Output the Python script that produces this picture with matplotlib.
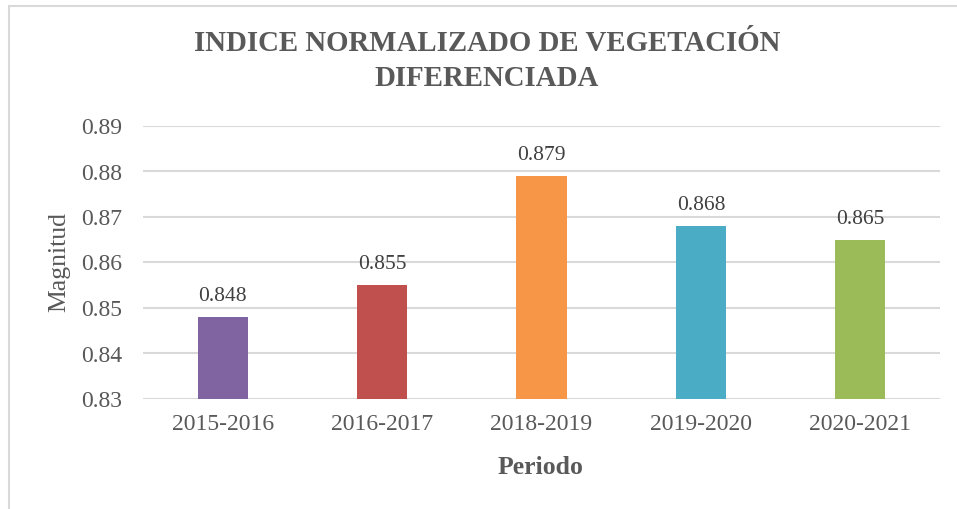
import matplotlib
matplotlib.use("Agg")
import matplotlib.pyplot as plt
from matplotlib.patches import Rectangle

periods = ["2015-2016", "2016-2017", "2018-2019", "2019-2020", "2020-2021"]
ndvi = [0.848, 0.855, 0.879, 0.868, 0.865]
bar_colors = ["#8064A2", "#C0504D", "#F79646", "#4BACC6", "#9BBB59"]
y_ticks = [0.83, 0.84, 0.85, 0.86, 0.87, 0.88, 0.89]

plt.rcParams["font.family"] = ["Liberation Serif", "DejaVu Serif"]

W, H = 957, 509
fig = plt.figure(figsize=(W / 100, H / 100), dpi=100)
fig.patch.set_facecolor("white")

# chart frame
fig.add_artist(Rectangle((8.5 / W, -0.1), 1.2, 1.1 - 6.5 / H,
                         transform=fig.transFigure, fill=False,
                         edgecolor="#D9D9D9", linewidth=1.5, zorder=0))

ax = fig.add_axes([143 / W, 1 - 399 / H, (940 - 143) / W, (399 - 126) / H])
x = list(range(len(periods)))
ax.bar(x, [v - 0.83 for v in ndvi], bottom=0.83, width=0.314,
       color=bar_colors, zorder=3)

for xi, v in zip(x, ndvi):
    ax.annotate(f"{v:.3f}", (xi, v), xytext=(0, 8), textcoords="offset points",
                ha="center", va="bottom", fontsize=15.5, color="#404040")

ax.set_ylim(0.83, 0.89)
ax.set_xlim(-0.5, len(periods) - 0.5)
ax.set_yticks(y_ticks)
ax.set_yticklabels([f"{t:.2f}" for t in y_ticks])
ax.set_xticks(x)
ax.set_xticklabels(periods)
ax.tick_params(axis="both", length=0, labelsize=17, labelcolor="#595959")
ax.tick_params(axis="y", pad=15)
ax.tick_params(axis="x", pad=11)
ax.grid(axis="y", color="#D9D9D9", linewidth=1.5, zorder=0)
for s in ax.spines.values():
    s.set_visible(False)

fig.text(59 / W, 1 - 262 / H, "Magnitud", rotation=90, ha="center",
         va="center", fontsize=18.5, color="#595959")
fig.text(541 / W, 1 - 467 / H, "Periodo", ha="center", va="center",
         fontsize=18.5, fontweight="bold", color="#595959")
fig.text(487 / W, 1 - 61 / H, "INDICE NORMALIZADO DE VEGETACIÓN\nDIFERENCIADA",
         ha="center", va="center", fontsize=20.8, fontweight="bold",
         color="#595959", linespacing=1.38)

fig.savefig("out.png", dpi=100, facecolor="white")
